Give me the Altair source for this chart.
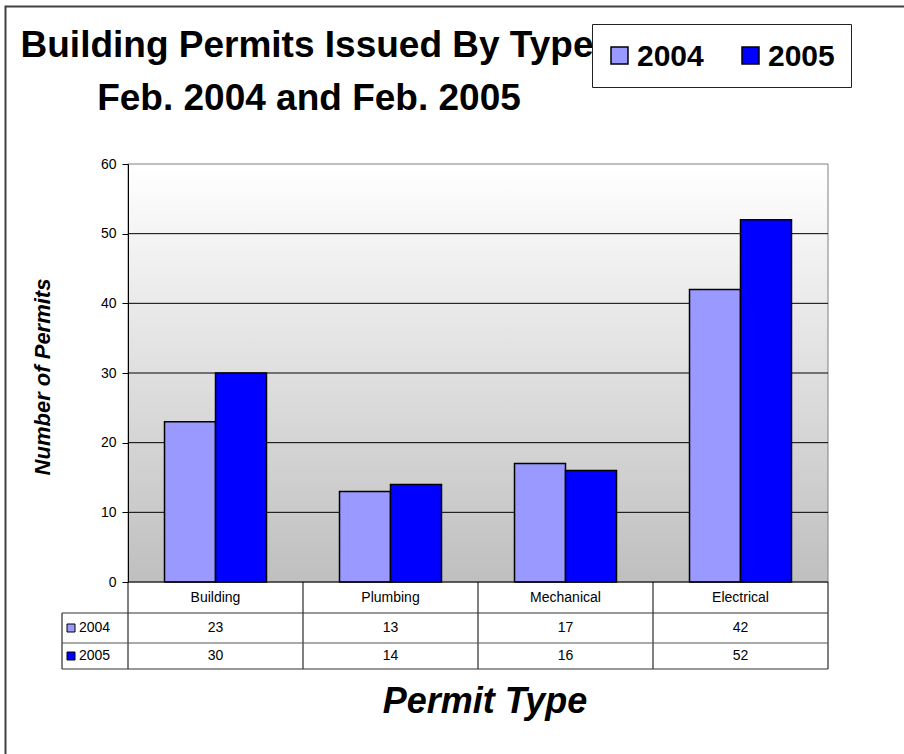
import altair as alt
import pandas as pd

# ---------------- data ----------------
categories = ["Building", "Plumbing", "Mechanical", "Electrical"]
years = ["2004", "2005"]
values_2004 = [23, 13, 17, 42]
values_2005 = [30, 14, 16, 52]
y_ticks = [0, 10, 20, 30, 40, 50, 60]
grid_values = [10, 20, 30, 40, 50]
colors = ["#9999FF", "#0000FF"]

title_lines = ["Building Permits Issued By Type", "Feb. 2004 and Feb. 2005"]
y_title = "Number of Permits"
x_title = "Permit Type"

rows = []
for yr, vals in zip(years, [values_2004, values_2005]):
    for c, v in zip(categories, vals):
        rows.append({"category": c, "year": yr, "value": v})
df = pd.DataFrame(rows)

# ---------------- layout ----------------
W, H = 700, 418
FONT = "Liberation Sans"
dummy = pd.DataFrame({"a": [0]})

x_scale = alt.Scale(domain=categories, paddingInner=0, paddingOuter=0)
y_scale = alt.Scale(domain=[0, 60], nice=False, zero=True)
color_scale = alt.Scale(domain=years, range=colors)

y_axis = alt.Axis(values=y_ticks, grid=False, title=None, format="d",
                  domainColor="black", domainWidth=1, tickColor="black",
                  tickSize=6, tickWidth=1, labelPadding=6, labelFont=FONT,
                  labelFontSize=14, labelColor="black", zindex=1)


def xcat(band=0.5):
    return alt.X("category:N", sort=categories, scale=x_scale, axis=None, bandPosition=band)


def hline(y, x1, x2, color="black", width=1):
    return alt.Chart(dummy).mark_rule(color=color, strokeWidth=width).encode(
        x=alt.value(x1), x2=alt.value(x2), y=alt.value(y))


def vline(x, y1, y2, color="black", width=1):
    return alt.Chart(dummy).mark_rule(color=color, strokeWidth=width).encode(
        x=alt.value(x), y=alt.value(y1), y2=alt.value(y2))


def label(text, x, y, size, weight="normal", style="normal", align="center",
          baseline="alphabetic", angle=0):
    return alt.Chart(dummy).mark_text(
        font=FONT, fontSize=size, fontWeight=weight, fontStyle=style,
        align=align, baseline=baseline, angle=angle, color="black"
    ).encode(x=alt.value(x), y=alt.value(y), text=alt.value(text))


# outer frame
frame = alt.Chart(dummy).mark_rect(filled=False, stroke="#404040", strokeWidth=2).encode(
    x=alt.value(-122.5), x2=alt.value(820), y=alt.value(-157.5), y2=alt.value(640))

# plot background gradient
bg = alt.Chart(dummy).mark_rect(
    fill=alt.Gradient(
        gradient="linear",
        stops=[alt.GradientStop(color="#ffffff", offset=0),
               alt.GradientStop(color="#bfbfbf", offset=1)],
        x1=0, x2=0, y1=0, y2=1),
    stroke="#808080", strokeWidth=1,
).encode(x=alt.value(0), x2=alt.value(W), y=alt.value(0), y2=alt.value(H))

grid = alt.Chart(pd.DataFrame({"v": grid_values})).mark_rule(color="black", strokeWidth=1).encode(
    y=alt.Y("v:Q", scale=y_scale, axis=y_axis), x=alt.value(0), x2=alt.value(W))

bars = alt.Chart(df).mark_bar(stroke="black", strokeWidth=1.5).encode(
    x=xcat(),
    xOffset=alt.XOffset("year:N", sort=years,
                        scale=alt.Scale(paddingInner=0, paddingOuter=0.716)),
    y=alt.Y("value:Q", scale=y_scale, axis=y_axis),
    fill=alt.Fill("year:N", scale=color_scale, legend=None),
)

# ---------------- data table ----------------
ROW_HDR, ROW_A, ROW_B = 434, 464, 492
TFS = 14
table_layers = []
table_layers.append(
    alt.Chart(pd.DataFrame({"category": categories})).mark_text(
        font=FONT, fontSize=TFS, color="black", baseline="middle", align="center"
    ).encode(x=xcat(), y=alt.value(ROW_HDR), text="category:N"))
for yr, ry in zip(years, [ROW_A, ROW_B]):
    sub = df[df["year"] == yr]
    table_layers.append(
        alt.Chart(sub).mark_text(
            font=FONT, fontSize=TFS, color="black", baseline="middle", align="center"
        ).encode(x=xcat(), y=alt.value(ry), text="value:Q"))
    table_layers.append(
        alt.Chart(pd.DataFrame({"year": [yr]})).mark_rect(stroke="black", strokeWidth=1).encode(
            x=alt.value(-61), x2=alt.value(-53), y=alt.value(ry - 4), y2=alt.value(ry + 4),
            fill=alt.Fill("year:N", scale=color_scale, legend=None)))
    table_layers.append(label(yr, -49, ry, TFS, align="left", baseline="middle"))

# table grid lines
table_vlines = alt.Chart(pd.DataFrame({"category": categories})).mark_rule(
    color="black", strokeWidth=1).encode(x=xcat(0), y=alt.value(H), y2=alt.value(505))
table_lines = [
    table_vlines,
    vline(W, H, 505),
    vline(-66, 449, 505),
    hline(H, 0, W),
    hline(449, -66, W, color="#333333"),
    hline(479, -66, W, color="#555555"),
    hline(505, -66, W, color="#333333"),
]

# ---------------- titles ----------------
titles = [
    label(title_lines[0], 179, -107, 37, weight="bold"),
    label(title_lines[1], 181, -54, 37, weight="bold"),
    label(y_title, -85, 213, 22, weight="bold", style="italic", baseline="middle", angle=270),
    label(x_title, 357, 549, 36, weight="bold", style="italic"),
]

# ---------------- legend ----------------
legend_box = alt.Chart(dummy).mark_rect(fill="white", stroke="#222222", strokeWidth=1).encode(
    x=alt.value(464.5), x2=alt.value(723.5), y=alt.value(-139.5), y2=alt.value(-76.5))
legend_layers = [legend_box]
for yr, sx in zip(years, [483, 614]):
    legend_layers.append(
        alt.Chart(pd.DataFrame({"year": [yr]})).mark_rect(stroke="black", strokeWidth=1.5).encode(
            x=alt.value(sx), x2=alt.value(sx + 17), y=alt.value(-117), y2=alt.value(-100),
            fill=alt.Fill("year:N", scale=color_scale, legend=None)))
    legend_layers.append(label(yr, sx + 26, -98, 30, weight="bold", align="left"))

chart = alt.layer(
    frame, bg, grid, bars, *table_lines, *table_layers, *titles, *legend_layers
).properties(
    width=W, height=H,
    padding={"left": 128, "top": 164, "right": 76, "bottom": 172},
    autosize=alt.AutoSizeParams(type="none"),
    background="white",
).configure_view(strokeWidth=0)

chart.save("out.html", embed_options={"renderer": "svg", "actions": False})
